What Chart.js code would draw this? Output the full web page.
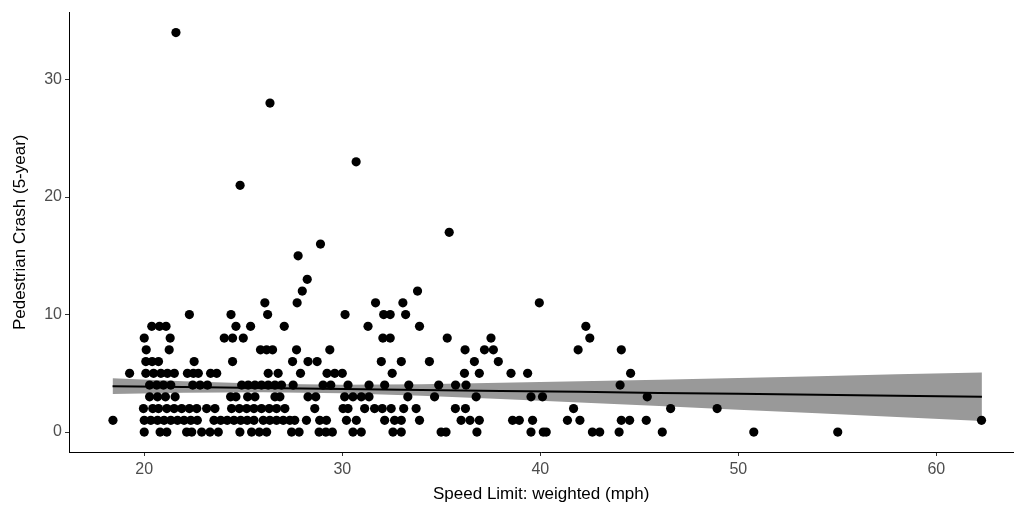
<!DOCTYPE html>
<html>
<head>
<meta charset="utf-8">
<script src="https://cdn.jsdelivr.net/npm/chart.js@4.4.1/dist/chart.umd.min.js"></script>
<style>
html,body{margin:0;padding:0;background:#fff;overflow:hidden}
#wrap{width:1018px;height:510px;position:relative}
</style>
</head>
<body>
<div id="wrap"><canvas id="c" width="1018" height="510"></canvas></div>
<script>
/* ══════════════════════════════════════════
   DATA: speed limit (mph) for each crash count
   ══════════════════════════════════════════ */
const speedCrash0=[20.0,20.8,21.14,22.14,22.4,22.9,23.32,23.74,24.83,25.42,25.81,26.18,27.44,27.82,28.83,29.17,29.5,30.54,30.96,32.56,32.98,34.99,35.24,36.8,39.53,40.15,40.3,42.63,43.0,43.98,46.16,50.78,55.02];
const speedCrash1=[18.42,20.0,20.33,20.67,21.0,21.34,21.68,22.01,22.35,22.68,23.52,23.86,24.19,24.53,24.87,25.2,25.54,26.01,26.34,26.68,27.02,27.35,27.6,28.19,28.86,29.2,30.21,30.71,32.14,32.64,32.98,33.9,36.0,36.45,36.92,38.6,38.94,39.61,41.37,42.0,44.09,44.51,45.35,62.28];
const speedCrash2=[19.96,20.43,20.72,21.14,21.51,21.89,22.28,22.65,23.15,23.57,24.41,24.8,25.17,25.54,25.92,26.31,26.68,27.1,28.61,30.04,30.29,31.13,31.63,32.02,32.47,33.1,33.73,35.71,36.22,41.68,46.58,48.93];
const speedCrash3=[20.27,20.67,21.07,21.56,24.36,24.63,25.22,25.59,26.6,26.85,28.27,28.66,30.12,30.54,30.96,31.35,33.31,34.66,36.76,39.53,40.11,45.4];
const speedCrash4=[20.27,20.63,20.97,21.34,22.45,22.82,23.19,24.92,25.25,25.59,25.92,26.26,26.6,26.93,27.52,29.03,29.42,30.29,31.35,32.14,33.36,34.87,35.72,36.25,44.03];
const speedCrash5=[19.26,20.08,20.47,20.84,21.17,21.52,22.18,22.48,22.73,23.35,23.66,26.26,26.76,27.89,29.23,29.62,30.0,32.52,36.17,36.92,38.52,39.36,44.56];
const speedCrash6=[20.08,20.4,20.72,22.52,24.46,27.49,28.27,28.73,31.97,32.98,34.4,36.67,37.88];
const speedCrash7=[20.1,21.26,25.87,26.18,26.48,27.69,29.37,36.2,37.18,37.63,41.91,44.09];
const speedCrash8=[20.0,21.31,24.04,24.46,25.0,32.05,32.42,35.3,37.51,42.5];
const speedCrash9=[20.38,20.77,21.1,24.63,25.37,27.07,31.3,33.9,42.3];
const speedCrash10=[22.28,24.38,26.23,30.14,32.09,32.42,33.2];
const speedCrash11=[26.09,27.72,31.68,33.06,39.95];
// higher counts, one point each
const outlierSpeed=[27.98,33.8,28.23,27.77,28.9,35.4,24.84,30.7,26.35,21.6];
const outlierCrash=[12,12,13,15,16,17,21,23,28,34];

// fitted line and its band
const fitSpeed=[18.4,22,26,30,34,38,42,46,50,54,58,62.3];
const fitCrash=[3.90,3.83,3.74,3.66,3.58,3.50,3.42,3.33,3.25,3.17,3.09,3.00];
const bandHigh=[4.57,4.32,4.10,4.02,4.07,4.19,4.32,4.45,4.60,4.75,4.91,5.07];
const bandLow=[3.24,3.34,3.38,3.30,3.09,2.81,2.52,2.21,1.90,1.59,1.27,0.93];

const xTicks=[20,30,40,50,60];
const yTicks=[0,10,20,30];

/* ══════════════════════════════════════════
   BUILD
   ══════════════════════════════════════════ */
const rows=[speedCrash0,speedCrash1,speedCrash2,speedCrash3,speedCrash4,speedCrash5,speedCrash6,speedCrash7,speedCrash8,speedCrash9,speedCrash10,speedCrash11];
const pts=[];
rows.forEach(function(r,k){r.forEach(function(s){pts.push({x:s,y:k})})});
outlierSpeed.forEach(function(s,i){pts.push({x:s,y:outlierCrash[i]})});

function pair(ys){return fitSpeed.map(function(s,i){return {x:s,y:ys[i]}})}

const FONT='"Liberation Sans", Arial, sans-serif';

new Chart(document.getElementById('c'),{
  type:'scatter',
  data:{datasets:[
    {data:pair(bandHigh),showLine:true,pointRadius:0,borderWidth:0,borderColor:'rgba(0,0,0,0)',backgroundColor:'#999999',fill:'+1',order:3},
    {data:pair(bandLow),showLine:true,pointRadius:0,borderWidth:0,borderColor:'rgba(0,0,0,0)',fill:false,order:3},
    {data:pair(fitCrash),showLine:true,pointRadius:0,borderWidth:2,borderColor:'#000',fill:false,order:2},
    {data:pts,pointRadius:4.6,pointBorderWidth:0,pointBackgroundColor:'#000',pointBorderColor:'#000',order:1}
  ]},
  options:{
    responsive:false,animation:false,
    layout:{padding:{top:11,right:0,left:0,bottom:0}},
    plugins:{legend:{display:false},tooltip:{enabled:false}},
    scales:{
      x:{type:'linear',min:16.2,max:63.89,
        afterFit:function(s){s.height=58},
        afterBuildTicks:function(s){s.ticks=xTicks.map(function(v){return {value:v}})},
        grid:{display:true,drawOnChartArea:false,drawTicks:true,tickLength:4,tickColor:'#333'},
        border:{display:true,color:'#000',width:1},
        ticks:{color:'#4d4d4d',font:{family:FONT,size:16},padding:4,maxRotation:0},
        title:{display:true,text:'Speed Limit: weighted (mph)',color:'#000',font:{family:FONT,size:17},padding:{top:2,bottom:5}}
      },
      y:{type:'linear',min:-1.7,max:35.7,
        afterFit:function(s){s.width=69},
        afterBuildTicks:function(s){s.ticks=yTicks.map(function(v){return {value:v}})},
        grid:{display:true,drawOnChartArea:false,drawTicks:true,tickLength:4,tickColor:'#333'},
        border:{display:true,color:'#000',width:1},
        ticks:{color:'#4d4d4d',font:{family:FONT,size:16},padding:3},
        title:{display:true,text:'Pedestrian Crash (5-year)',color:'#000',font:{family:FONT,size:17},padding:{top:10,bottom:2}}
      }
    }
  }
});
</script>
</body>
</html>
